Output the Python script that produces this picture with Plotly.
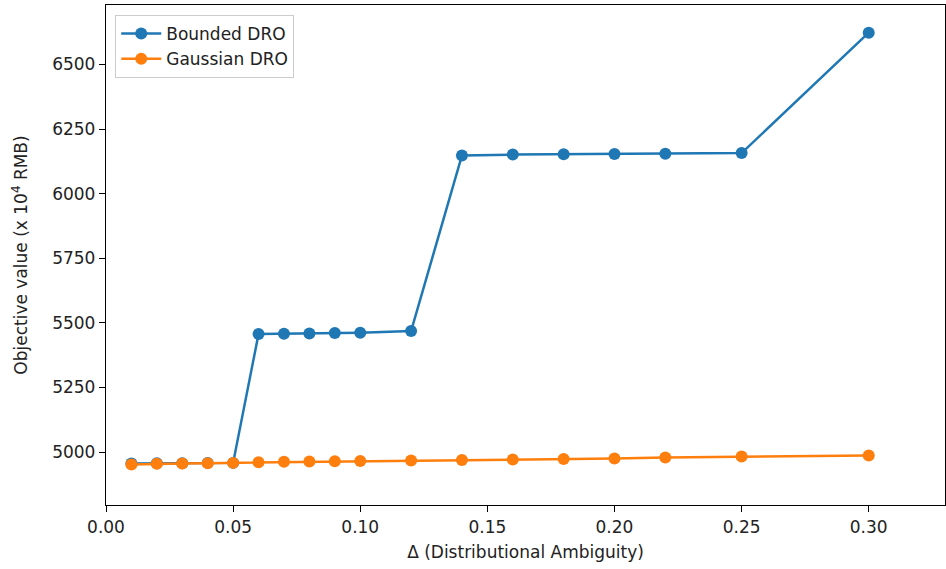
import plotly.graph_objects as go

delta = [0.01, 0.02, 0.03, 0.04, 0.05, 0.06, 0.07, 0.08, 0.09, 0.10,
         0.12, 0.14, 0.16, 0.18, 0.20, 0.22, 0.25, 0.30]
bounded_dro = [4956, 4957, 4957, 4958, 4958, 5457, 5458, 5459, 5461, 5462,
               5468, 6148, 6151, 6152, 6153, 6154, 6157, 6623]
gaussian_dro = [4952, 4955, 4956, 4957, 4958, 4960, 4962, 4963, 4964, 4965,
                4967, 4969, 4971, 4973, 4975, 4979, 4983, 4987]
x_ticks = [0.00, 0.05, 0.10, 0.15, 0.20, 0.25, 0.30]
y_ticks = [5000, 5250, 5500, 5750, 6000, 6250, 6500]

font = "DejaVu Sans, sans-serif"
fs = 17

fig = go.Figure()
fig.add_trace(go.Scatter(x=delta, y=bounded_dro, mode="lines+markers", name="Bounded DRO",
                         line=dict(color="#1f77b4", width=2.5),
                         marker=dict(color="#1f77b4", size=12)))
fig.add_trace(go.Scatter(x=delta, y=gaussian_dro, mode="lines+markers", name="Gaussian DRO",
                         line=dict(color="#ff7f0e", width=2.5),
                         marker=dict(color="#ff7f0e", size=12)))

axis_common = dict(showline=True, linecolor="black", linewidth=1.3, mirror=True,
                   showgrid=False, zeroline=False, ticks="outside", ticklen=6,
                   tickcolor="black", tickwidth=1.3,
                   tickfont=dict(family=font, size=fs, color="#222"))

fig.update_layout(
    width=946, height=569,
    margin=dict(l=106, r=1, t=5, b=64),
    paper_bgcolor="white", plot_bgcolor="white",
    font=dict(family=font, size=fs, color="#222"),
    xaxis=dict(range=[0, 0.33], tickvals=x_ticks,
               ticktext=[f"{v:.2f}" for v in x_ticks],
               title=dict(text="Δ (Distributional Ambiguity)", font=dict(family=font, size=fs), standoff=10),
               **axis_common),
    yaxis=dict(range=[4795, 6730], tickvals=y_ticks,
               ticktext=[str(v) for v in y_ticks],
               title=dict(text="Objective value (x 10<sup>4</sup> RMB)", font=dict(family=font, size=fs), standoff=20),
               **axis_common),
    legend=dict(x=0.011, y=0.98, xanchor="left", yanchor="top",
                bgcolor="rgba(255,255,255,0.8)", bordercolor="#cccccc", borderwidth=1,
                font=dict(family=font, size=fs, color="#222"), itemwidth=40,
                tracegroupgap=2),
    showlegend=True,
)

fig.write_html("out.html")
